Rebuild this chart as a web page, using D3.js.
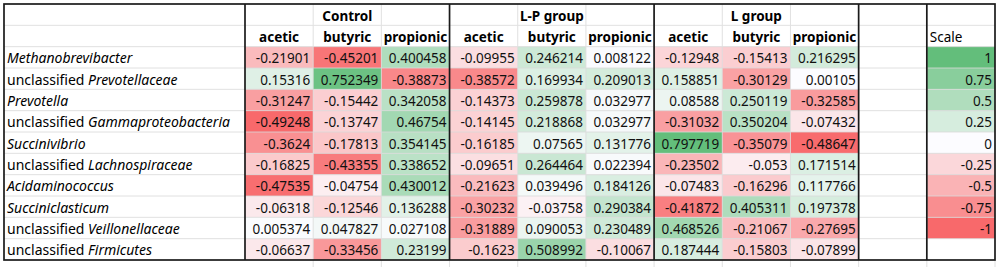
<!DOCTYPE html>
<html>
<head>
<meta charset="utf-8">
<script src="https://cdn.jsdelivr.net/npm/d3@7"></script>
<style>
  body { margin: 0; background: #fff; }
  svg { display: block; font-family: "Noto Sans", sans-serif; }
</style>
</head>
<body>
<div id="chart"></div>
<script>
// taxa, shown as [prefix, italic name]
const taxa = [
    ["", "Methanobrevibacter"],
    ["unclassified ", "Prevotellaceae"],
    ["", "Prevotella"],
    ["unclassified ", "Gammaproteobacteria"],
    ["", "Succinivibrio"],
    ["unclassified ", "Lachnospiraceae"],
    ["", "Acidaminococcus"],
    ["", "Succiniclasticum"],
    ["unclassified ", "Veillonellaceae"],
    ["unclassified ", "Firmicutes"]
];

const groups = ["Control", "L-P group", "L group"];
const acids = ["acetic", "butyric", "propionic"];

// correlation values, one array per group x acid
const controlAcetic = [-0.21901, 0.15316, -0.31247, -0.49248, -0.3624, -0.16825, -0.47535, -0.06318, 0.005374, -0.06637];
const controlButyric = [-0.45201, 0.752349, -0.15442, -0.13747, -0.17813, -0.43355, -0.04754, -0.12546, 0.047827, -0.33456];
const controlPropionic = [0.400458, -0.38873, 0.342058, 0.46754, 0.354145, 0.338652, 0.430012, 0.136288, 0.027108, 0.23199];
const lpAcetic = [-0.09955, -0.38572, -0.14373, -0.14145, -0.16185, -0.09651, -0.21623, -0.30232, -0.31889, -0.1623];
const lpButyric = [0.246214, 0.169934, 0.259878, 0.218868, 0.07565, 0.264464, 0.039496, -0.03758, 0.090053, 0.508992];
const lpPropionic = [0.008122, 0.209013, 0.032977, 0.032977, 0.131776, 0.022394, 0.184126, 0.290384, 0.230489, -0.10067];
const lAcetic = [-0.12948, 0.158851, 0.08588, -0.31032, 0.797719, -0.23502, -0.07483, -0.41872, 0.468526, 0.187444];
const lButyric = [-0.15413, -0.30129, 0.250119, 0.350204, -0.35079, -0.053, -0.16296, 0.405311, -0.21067, -0.15803];
const lPropionic = [0.216295, 0.00105, -0.32585, -0.07432, -0.48647, 0.171514, 0.117766, 0.197378, -0.27695, -0.07899];

const scaleValues = [1, 0.75, 0.5, 0.25, 0, -0.25, -0.5, -0.75, -1];

const series = [controlAcetic, controlButyric, controlPropionic,
                lpAcetic, lpButyric, lpPropionic,
                lAcetic, lButyric, lPropionic];

const width = 1000, height = 267;
const tLeft = 4, labelRight = 245, tRight = 995, tTop = 4, tBottom = 260;

const svg = d3.select("#chart").append("svg")
    .attr("width", width)
    .attr("height", height);

svg.append("rect").attr("width", width).attr("height", height).attr("fill", "#fff");

// 9 data columns + blank column + scale column
const colKeys = d3.range(11);
const x = d3.scaleBand().domain(colKeys).range([labelRight, tRight]);

// 2 header rows + 10 data rows
const rowKeys = d3.range(12);
const y = d3.scaleBand().domain(rowKeys).range([tTop, tBottom]);

// excel-like 3 colour scale
const allVals = series.flat();
const cellColour = d3.scaleLinear()
    .domain([d3.min(allVals), 0, d3.max(allVals)])
    .range(["#F8696B", "#FCFCFF", "#63BE7B"]);
const legendColour = d3.scaleLinear()
    .domain([-1, 0, 1])
    .range(["#F8696B", "#FCFCFF", "#63BE7B"]);

// flatten cells
let cells = [];
series.forEach((vals, c) => {
    vals.forEach((v, r) => cells.push({col: c, row: r + 2, value: v}));
});
let scaleCells = scaleValues.map((v, i) => ({col: 10, row: i + 2, value: v}));

svg.append("g").selectAll("rect")
    .data(cells)
    .join("rect")
    .attr("x", d => x(d.col))
    .attr("y", d => y(d.row))
    .attr("width", x.bandwidth())
    .attr("height", y.bandwidth())
    .attr("fill", d => cellColour(d.value));

svg.append("g").selectAll("rect")
    .data(scaleCells)
    .join("rect")
    .attr("x", d => x(d.col))
    .attr("y", d => y(d.row))
    .attr("width", x.bandwidth())
    .attr("height", y.bandwidth())
    .attr("fill", d => legendColour(d.value));

// light gridlines
let grid = svg.append("g").attr("stroke", "#dadada").attr("stroke-width", 1).attr("opacity", 0.8);
rowKeys.slice(1).forEach(r => {
    grid.append("line")
        .attr("x1", tLeft).attr("x2", tRight)
        .attr("y1", y(r)).attr("y2", y(r));
});
colKeys.slice(1).forEach(c => {
    grid.append("line")
        .attr("x1", x(c)).attr("x2", x(c))
        .attr("y1", tTop).attr("y2", height);
});
grid.append("line").attr("x1", tRight).attr("x2", tRight).attr("y1", tBottom).attr("y2", height);

// thick borders
let border = svg.append("g").attr("stroke", "#1a1a1a").attr("stroke-width", 1.7).attr("fill", "none");
border.append("rect")
    .attr("x", tLeft).attr("y", tTop)
    .attr("width", tRight - tLeft).attr("height", tBottom - tTop);
[labelRight, x(3), x(6), x(9), x(10)].forEach(px => {
    border.append("line")
        .attr("x1", px).attr("x2", px)
        .attr("y1", tTop).attr("y2", tBottom);
});

const fontSize = 13.5;
const baseline = r => y(r) + y.bandwidth() - 4.8;

// group titles
svg.append("g").selectAll("text")
    .data(groups)
    .join("text")
    .attr("x", (d, i) => x(i * 3 + 1) + x.bandwidth() / 2)
    .attr("y", baseline(0))
    .attr("text-anchor", "middle")
    .attr("font-weight", "bold")
    .attr("font-size", fontSize)
    .text(d => d);

// acid headers
let heads = [];
groups.forEach((g, gi) => acids.forEach((a, ai) => heads.push({col: gi * 3 + ai, text: a})));
svg.append("g").selectAll("text")
    .data(heads)
    .join("text")
    .attr("x", d => x(d.col) + x.bandwidth() / 2)
    .attr("y", baseline(1))
    .attr("text-anchor", "middle")
    .attr("font-weight", "bold")
    .attr("font-size", fontSize)
    .text(d => d.text);

svg.append("text")
    .attr("x", x(10) + 3)
    .attr("y", baseline(1))
    .attr("font-size", fontSize)
    .text("Scale");

// row labels
let labels = svg.append("g").selectAll("text")
    .data(taxa)
    .join("text")
    .attr("x", tLeft + 3)
    .attr("y", (d, i) => baseline(i + 2))
    .attr("font-size", 14);
labels.append("tspan").text(d => d[0]);
labels.append("tspan").attr("font-style", "italic").text(d => d[1]);

// values
svg.append("g").selectAll("text")
    .data(cells.concat(scaleCells))
    .join("text")
    .attr("x", d => x(d.col) + x.bandwidth() - 3)
    .attr("y", d => baseline(d.row))
    .attr("text-anchor", "end")
    .attr("font-size", fontSize)
    .attr("fill", "#111")
    .text(d => String(d.value));
</script>
</body>
</html>
